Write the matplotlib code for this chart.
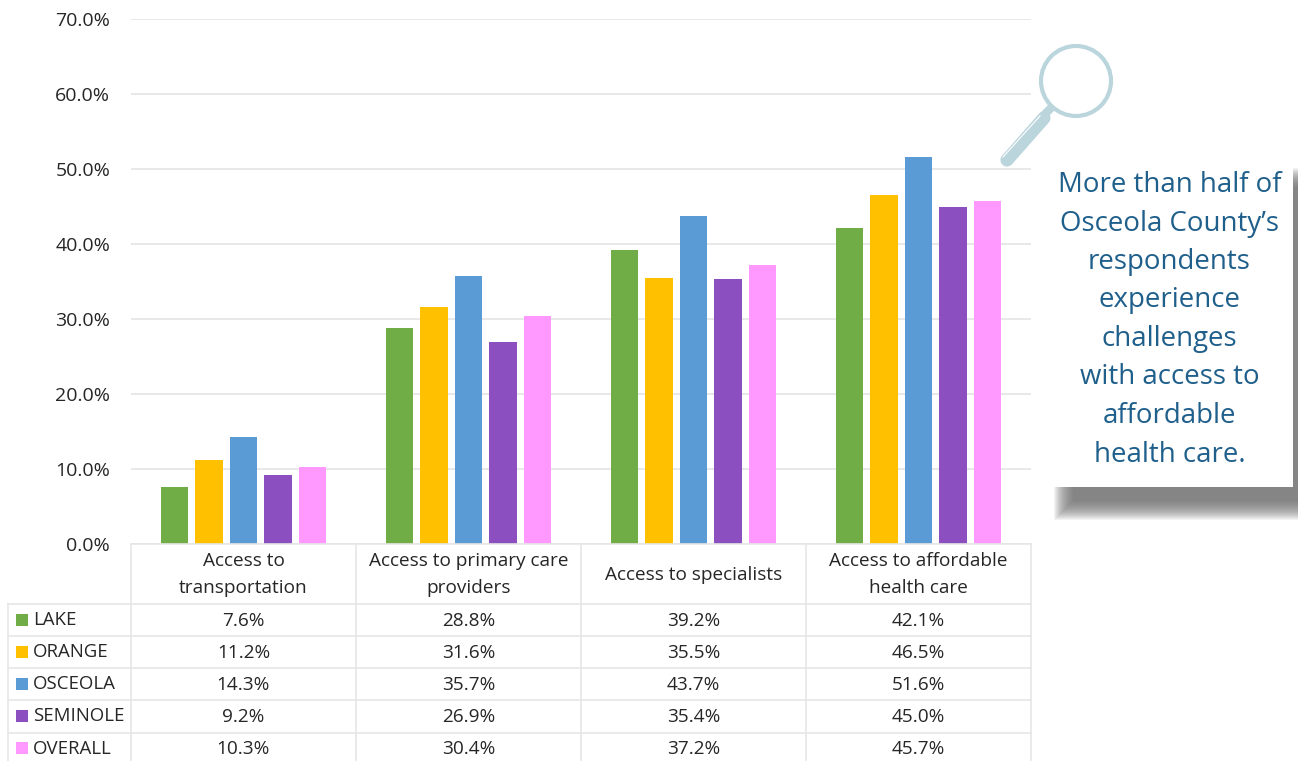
import numpy as np
import matplotlib
matplotlib.use('Agg')
import matplotlib.pyplot as plt
from matplotlib.patches import Rectangle, Circle

plt.rcParams['font.family'] = ['Open Sans', 'DejaVu Sans']

categories = ['Access to\ntransportation', 'Access to primary care\nproviders',
              'Access to specialists', 'Access to affordable\nhealth care']
series_names = ['LAKE', 'ORANGE', 'OSCEOLA', 'SEMINOLE', 'OVERALL']
lake = [7.6, 28.8, 39.2, 42.1]
orange = [11.2, 31.6, 35.5, 46.5]
osceola = [14.3, 35.7, 43.7, 51.6]
seminole = [9.2, 26.9, 35.4, 45.0]
overall = [10.3, 30.4, 37.2, 45.7]
colors = ['#70AD47', '#FFC000', '#5B9BD5', '#8B4FC0', '#FF99FF']
callout = ['More than half of', 'Osceola County\u2019s', 'respondents', 'experience',
           'challenges', 'with access to', 'affordable', 'health care.']

W, H = 1298, 761
fig = plt.figure(figsize=(W / 100, H / 100), dpi=100)
grid_col = '#E6E6E6'
txt_col = '#262626'

# main chart
ax = fig.add_axes([131 / W, 1 - 544 / H, 900 / W, 525 / H])
all_series = [lake, orange, osceola, seminole, overall]
x = np.arange(len(categories))
for i, vals in enumerate(all_series):
    ax.bar(x + (i - 2) * 0.1533, vals, 0.122, color=colors[i], zorder=3)
ax.set_xlim(-0.5, 3.5)
ax.set_ylim(0, 70)
ax.set_yticks(range(0, 71, 10))
ax.set_yticklabels(['%.1f%%' % v for v in range(0, 71, 10)], fontsize=14, color=txt_col)
ax.set_xticks([])
ax.tick_params(axis='y', length=0, pad=15)
ax.grid(axis='y', color=grid_col, lw=1.3, zorder=0)
for s in ax.spines.values():
    s.set_visible(False)

# overlay in pixel coordinates for the data table, callout, magnifier
ov = fig.add_axes([0, 0, 1, 1], facecolor='none')
ov.set_xlim(0, W)
ov.set_ylim(H, 0)
ov.axis('off')

for xv in [131, 356, 581, 806, 1031]:
    ov.plot([xv, xv], [544, H], color=grid_col, lw=1.2)
ov.plot([8, 8], [604, H], color=grid_col, lw=1.2)
ov.plot([131, 1031], [544, 544], color=grid_col, lw=1.2)
for yv in [604, 636, 668, 700, 733]:
    ov.plot([8, 1031], [yv, yv], color=grid_col, lw=1.2)

centers = [243.5, 468.5, 693.5, 918.5]
for cx, c in zip(centers, categories):
    ov.text(cx, 574.5, c, ha='center', va='center', fontsize=13.7, color=txt_col, linespacing=1.58)

rows_y = [620.5, 652.5, 684.5, 716.5, 749]
for ry, name, col, vals in zip(rows_y, series_names, colors, all_series):
    ov.add_patch(Rectangle((16, ry - 7), 12, 12, color=col, lw=0))
    ov.text(33, ry - 0.5, name, ha='left', va='center', fontsize=13.4, color=txt_col)
    for cx, v in zip(centers, vals):
        ov.text(cx, ry, '%.1f%%' % v, ha='center', va='center', fontsize=13.7, color=txt_col)

# callout shadow, built up from nested translucent boxes
for k in range(20):
    ov.add_patch(Rectangle((1054 + k, 168 + k), 270, 352 - 2 * k, color='#6E6E6E',
                           alpha=0.08, lw=0, zorder=4))
ov.add_patch(Rectangle((1040, 165), 253, 322, color='white', lw=0, zorder=5))
for i, line in enumerate(callout):
    ov.text(1169.5, 185 + i * 38.5, line, ha='center', va='center', fontsize=19.9,
            color='#1F5F8B', zorder=6)

# magnifying glass
glass = '#BBD5DD'
ov.add_patch(Circle((1076, 81), 35, fill=False, ec=glass, lw=3.0, zorder=7))
ov.plot([1052, 1043], [107, 116], color=glass, lw=6, solid_capstyle='butt', zorder=7)
ov.plot([1044, 1007], [118, 160], color=glass, lw=9.5, solid_capstyle='round', zorder=7)
ov.plot([1040, 1003], [116, 157], color='white', lw=0.8, zorder=8)

fig.savefig('out.png', dpi=100)
